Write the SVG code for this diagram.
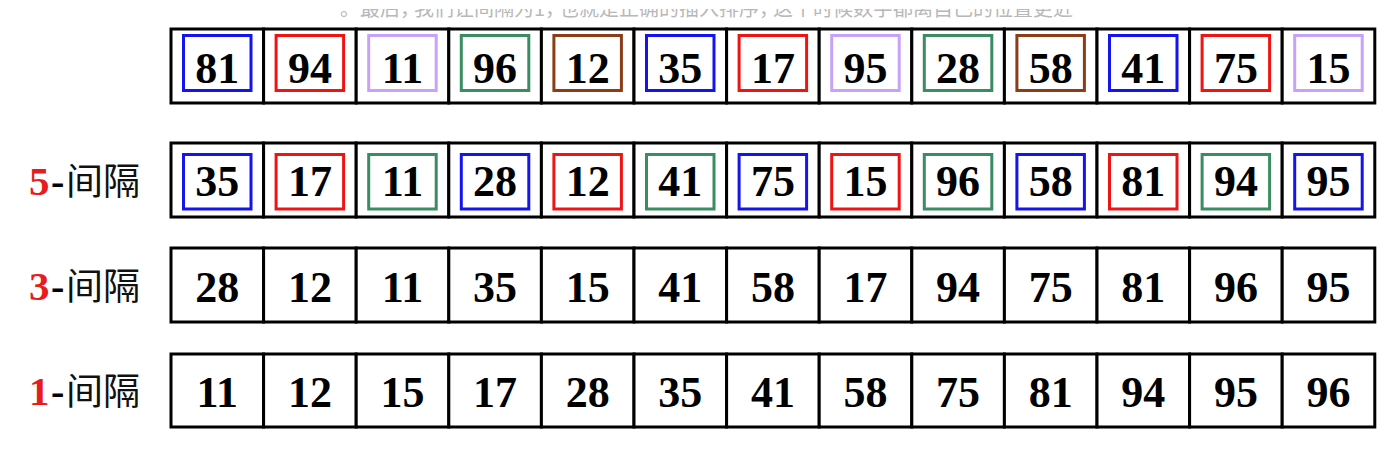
<svg xmlns="http://www.w3.org/2000/svg" width="1396" height="457" viewBox="0 0 1396 457">
<style>
.cell{fill:#fff;stroke:#000;stroke-width:3}
.num{font-family:"Liberation Serif","Times New Roman",serif;font-weight:bold;font-size:44px;text-anchor:middle;fill:#000}
.bx{fill:none;stroke-width:3}
.bl{stroke:#1414ee}.rd{stroke:#ee1414}.lv{stroke:#c8a2f8}.gr{stroke:#3a8c62}.br{stroke:#8c3c16}
.dig{font-family:"Liberation Serif","Times New Roman",serif;font-weight:bold;font-size:41px;fill:#e81c1c}
.dash{font-family:"Liberation Serif","Times New Roman",serif;font-weight:bold;font-size:40px;fill:#000}
.cjk{font-family:"Noto Sans CJK SC","Noto Sans",sans-serif;font-size:37px;fill:#111}
.cap{font-family:"Noto Sans CJK SC","Noto Sans",sans-serif;font-size:20px;fill:#b8b8b8}
.cm{letter-spacing:-6px}
</style>
<defs>
<clipPath id="capclip"><rect x="0" y="9" width="1396" height="20"/></clipPath>
</defs>
<rect x="0" y="0" width="1396" height="457" fill="#fff"/>
<g id="caption" clip-path="url(#capclip)">
<text class="cap" x="340" y="16">。最后<tspan class="cm">，</tspan>我们让间隔为1<tspan class="cm">，</tspan>也就是正确的插入排序<tspan class="cm">，</tspan>这个时候数字都离自己的位置更近</text>
</g>

<g id="labels">
<g id="label-5"><text class="dig" x="29" y="195">5</text><text class="dash" x="51" y="195">-</text><text class="cjk" x="66" y="195">间隔</text></g>
<g id="label-3"><text class="dig" x="29" y="300">3</text><text class="dash" x="51" y="300">-</text><text class="cjk" x="66" y="300">间隔</text></g>
<g id="label-1"><text class="dig" x="29" y="405">1</text><text class="dash" x="51" y="405">-</text><text class="cjk" x="66" y="405">间隔</text></g>
</g>

<g id="row-original">
<g id="r0c0"><rect class="cell" x="171" y="29" width="92.6" height="74"/><rect class="bx bl" x="183.5" y="35.5" width="67.5" height="55"/><text class="num" x="217.3" y="83">81</text></g>
<g id="r0c1"><rect class="cell" x="263.6" y="29" width="92.6" height="74"/><rect class="bx rd" x="276.1" y="35.5" width="67.5" height="55"/><text class="num" x="309.9" y="83">94</text></g>
<g id="r0c2"><rect class="cell" x="356.2" y="29" width="92.6" height="74"/><rect class="bx lv" x="368.7" y="35.5" width="67.5" height="55"/><text class="num" x="402.5" y="83">11</text></g>
<g id="r0c3"><rect class="cell" x="448.8" y="29" width="92.6" height="74"/><rect class="bx gr" x="461.3" y="35.5" width="67.5" height="55"/><text class="num" x="495.1" y="83">96</text></g>
<g id="r0c4"><rect class="cell" x="541.4" y="29" width="92.6" height="74"/><rect class="bx br" x="553.9" y="35.5" width="67.5" height="55"/><text class="num" x="587.7" y="83">12</text></g>
<g id="r0c5"><rect class="cell" x="634" y="29" width="92.6" height="74"/><rect class="bx bl" x="646.5" y="35.5" width="67.5" height="55"/><text class="num" x="680.3" y="83">35</text></g>
<g id="r0c6"><rect class="cell" x="726.6" y="29" width="92.6" height="74"/><rect class="bx rd" x="739.1" y="35.5" width="67.5" height="55"/><text class="num" x="772.9" y="83">17</text></g>
<g id="r0c7"><rect class="cell" x="819.2" y="29" width="92.6" height="74"/><rect class="bx lv" x="831.7" y="35.5" width="67.5" height="55"/><text class="num" x="865.5" y="83">95</text></g>
<g id="r0c8"><rect class="cell" x="911.8" y="29" width="92.6" height="74"/><rect class="bx gr" x="924.3" y="35.5" width="67.5" height="55"/><text class="num" x="958.1" y="83">28</text></g>
<g id="r0c9"><rect class="cell" x="1004.4" y="29" width="92.6" height="74"/><rect class="bx br" x="1016.9" y="35.5" width="67.5" height="55"/><text class="num" x="1050.7" y="83">58</text></g>
<g id="r0c10"><rect class="cell" x="1097" y="29" width="92.6" height="74"/><rect class="bx bl" x="1109.5" y="35.5" width="67.5" height="55"/><text class="num" x="1143.3" y="83">41</text></g>
<g id="r0c11"><rect class="cell" x="1189.6" y="29" width="92.6" height="74"/><rect class="bx rd" x="1202.1" y="35.5" width="67.5" height="55"/><text class="num" x="1235.9" y="83">75</text></g>
<g id="r0c12"><rect class="cell" x="1282.2" y="29" width="92.6" height="74"/><rect class="bx lv" x="1294.7" y="35.5" width="67.5" height="55"/><text class="num" x="1328.5" y="83">15</text></g>
</g>

<g id="row-gap5">
<g id="r1c0"><rect class="cell" x="171" y="143" width="92.6" height="74"/><rect class="bx bl" x="183.5" y="154.5" width="67.5" height="54.5"/><text class="num" x="217.3" y="196">35</text></g>
<g id="r1c1"><rect class="cell" x="263.6" y="143" width="92.6" height="74"/><rect class="bx rd" x="276.1" y="154.5" width="67.5" height="54.5"/><text class="num" x="309.9" y="196">17</text></g>
<g id="r1c2"><rect class="cell" x="356.2" y="143" width="92.6" height="74"/><rect class="bx gr" x="368.7" y="154.5" width="67.5" height="54.5"/><text class="num" x="402.5" y="196">11</text></g>
<g id="r1c3"><rect class="cell" x="448.8" y="143" width="92.6" height="74"/><rect class="bx bl" x="461.3" y="154.5" width="67.5" height="54.5"/><text class="num" x="495.1" y="196">28</text></g>
<g id="r1c4"><rect class="cell" x="541.4" y="143" width="92.6" height="74"/><rect class="bx rd" x="553.9" y="154.5" width="67.5" height="54.5"/><text class="num" x="587.7" y="196">12</text></g>
<g id="r1c5"><rect class="cell" x="634" y="143" width="92.6" height="74"/><rect class="bx gr" x="646.5" y="154.5" width="67.5" height="54.5"/><text class="num" x="680.3" y="196">41</text></g>
<g id="r1c6"><rect class="cell" x="726.6" y="143" width="92.6" height="74"/><rect class="bx bl" x="739.1" y="154.5" width="67.5" height="54.5"/><text class="num" x="772.9" y="196">75</text></g>
<g id="r1c7"><rect class="cell" x="819.2" y="143" width="92.6" height="74"/><rect class="bx rd" x="831.7" y="154.5" width="67.5" height="54.5"/><text class="num" x="865.5" y="196">15</text></g>
<g id="r1c8"><rect class="cell" x="911.8" y="143" width="92.6" height="74"/><rect class="bx gr" x="924.3" y="154.5" width="67.5" height="54.5"/><text class="num" x="958.1" y="196">96</text></g>
<g id="r1c9"><rect class="cell" x="1004.4" y="143" width="92.6" height="74"/><rect class="bx bl" x="1016.9" y="154.5" width="67.5" height="54.5"/><text class="num" x="1050.7" y="196">58</text></g>
<g id="r1c10"><rect class="cell" x="1097" y="143" width="92.6" height="74"/><rect class="bx rd" x="1109.5" y="154.5" width="67.5" height="54.5"/><text class="num" x="1143.3" y="196">81</text></g>
<g id="r1c11"><rect class="cell" x="1189.6" y="143" width="92.6" height="74"/><rect class="bx gr" x="1202.1" y="154.5" width="67.5" height="54.5"/><text class="num" x="1235.9" y="196">94</text></g>
<g id="r1c12"><rect class="cell" x="1282.2" y="143" width="92.6" height="74"/><rect class="bx bl" x="1294.7" y="154.5" width="67.5" height="54.5"/><text class="num" x="1328.5" y="196">95</text></g>
</g>

<g id="row-gap3">
<g id="r2c0"><rect class="cell" x="171" y="248" width="92.6" height="74"/><text class="num" x="217.3" y="302">28</text></g>
<g id="r2c1"><rect class="cell" x="263.6" y="248" width="92.6" height="74"/><text class="num" x="309.9" y="302">12</text></g>
<g id="r2c2"><rect class="cell" x="356.2" y="248" width="92.6" height="74"/><text class="num" x="402.5" y="302">11</text></g>
<g id="r2c3"><rect class="cell" x="448.8" y="248" width="92.6" height="74"/><text class="num" x="495.1" y="302">35</text></g>
<g id="r2c4"><rect class="cell" x="541.4" y="248" width="92.6" height="74"/><text class="num" x="587.7" y="302">15</text></g>
<g id="r2c5"><rect class="cell" x="634" y="248" width="92.6" height="74"/><text class="num" x="680.3" y="302">41</text></g>
<g id="r2c6"><rect class="cell" x="726.6" y="248" width="92.6" height="74"/><text class="num" x="772.9" y="302">58</text></g>
<g id="r2c7"><rect class="cell" x="819.2" y="248" width="92.6" height="74"/><text class="num" x="865.5" y="302">17</text></g>
<g id="r2c8"><rect class="cell" x="911.8" y="248" width="92.6" height="74"/><text class="num" x="958.1" y="302">94</text></g>
<g id="r2c9"><rect class="cell" x="1004.4" y="248" width="92.6" height="74"/><text class="num" x="1050.7" y="302">75</text></g>
<g id="r2c10"><rect class="cell" x="1097" y="248" width="92.6" height="74"/><text class="num" x="1143.3" y="302">81</text></g>
<g id="r2c11"><rect class="cell" x="1189.6" y="248" width="92.6" height="74"/><text class="num" x="1235.9" y="302">96</text></g>
<g id="r2c12"><rect class="cell" x="1282.2" y="248" width="92.6" height="74"/><text class="num" x="1328.5" y="302">95</text></g>
</g>

<g id="row-gap1">
<g id="r3c0"><rect class="cell" x="171" y="354" width="92.6" height="73"/><text class="num" x="217.3" y="407">11</text></g>
<g id="r3c1"><rect class="cell" x="263.6" y="354" width="92.6" height="73"/><text class="num" x="309.9" y="407">12</text></g>
<g id="r3c2"><rect class="cell" x="356.2" y="354" width="92.6" height="73"/><text class="num" x="402.5" y="407">15</text></g>
<g id="r3c3"><rect class="cell" x="448.8" y="354" width="92.6" height="73"/><text class="num" x="495.1" y="407">17</text></g>
<g id="r3c4"><rect class="cell" x="541.4" y="354" width="92.6" height="73"/><text class="num" x="587.7" y="407">28</text></g>
<g id="r3c5"><rect class="cell" x="634" y="354" width="92.6" height="73"/><text class="num" x="680.3" y="407">35</text></g>
<g id="r3c6"><rect class="cell" x="726.6" y="354" width="92.6" height="73"/><text class="num" x="772.9" y="407">41</text></g>
<g id="r3c7"><rect class="cell" x="819.2" y="354" width="92.6" height="73"/><text class="num" x="865.5" y="407">58</text></g>
<g id="r3c8"><rect class="cell" x="911.8" y="354" width="92.6" height="73"/><text class="num" x="958.1" y="407">75</text></g>
<g id="r3c9"><rect class="cell" x="1004.4" y="354" width="92.6" height="73"/><text class="num" x="1050.7" y="407">81</text></g>
<g id="r3c10"><rect class="cell" x="1097" y="354" width="92.6" height="73"/><text class="num" x="1143.3" y="407">94</text></g>
<g id="r3c11"><rect class="cell" x="1189.6" y="354" width="92.6" height="73"/><text class="num" x="1235.9" y="407">95</text></g>
<g id="r3c12"><rect class="cell" x="1282.2" y="354" width="92.6" height="73"/><text class="num" x="1328.5" y="407">96</text></g>
</g>
</svg>
